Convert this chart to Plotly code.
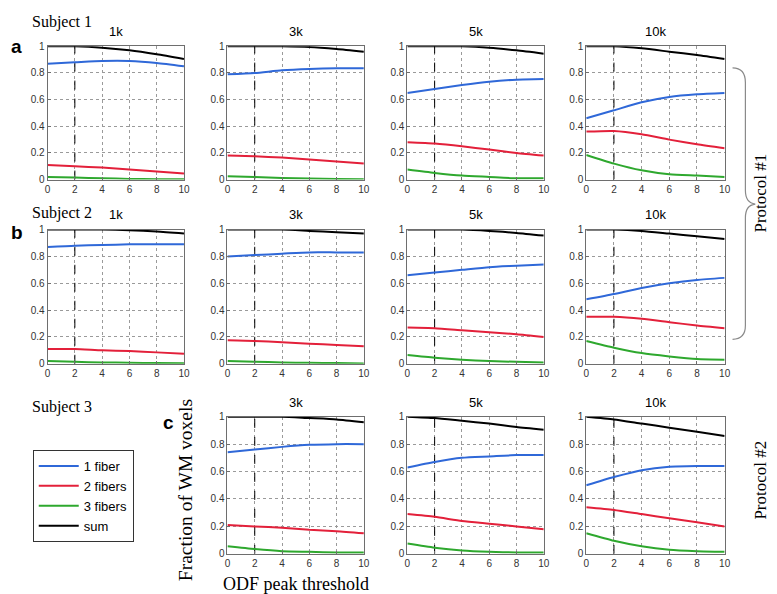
import plotly.graph_objects as go

W, H = 777, 594

# ---------------- data ----------------
thresholds = [0, 2, 4, 6, 8, 10]
peak_cut = 2
x_ticks = [0, 2, 4, 6, 8, 10]
y_ticks = [0, 0.2, 0.4, 0.6, 0.8, 1]

series_names = ["1 fiber", "2 fibers", "3 fibers", "sum"]

# Subject 1 (protocol #1)
one_s1 = {"1k": [0.87, 0.88, 0.89, 0.89, 0.875, 0.85],
          "3k": [0.79, 0.80, 0.82, 0.83, 0.835, 0.835],
          "5k": [0.65, 0.68, 0.71, 0.735, 0.75, 0.755],
          "10k": [0.46, 0.52, 0.58, 0.62, 0.64, 0.65]}
two_s1 = {"1k": [0.11, 0.10, 0.09, 0.075, 0.06, 0.045],
          "3k": [0.18, 0.175, 0.165, 0.15, 0.135, 0.12],
          "5k": [0.28, 0.27, 0.25, 0.225, 0.20, 0.18],
          "10k": [0.36, 0.365, 0.34, 0.30, 0.265, 0.235]}
three_s1 = {"1k": [0.02, 0.015, 0.01, 0.005, 0.003, 0.002],
            "3k": [0.025, 0.02, 0.012, 0.008, 0.005, 0.003],
            "5k": [0.075, 0.05, 0.03, 0.02, 0.01, 0.01],
            "10k": [0.185, 0.12, 0.07, 0.04, 0.03, 0.02]}
sum_s1 = {"1k": [1.0, 1.0, 0.99, 0.97, 0.94, 0.905],
          "3k": [1.0, 1.0, 1.0, 0.995, 0.98, 0.96],
          "5k": [1.0, 1.0, 1.0, 0.99, 0.97, 0.945],
          "10k": [1.0, 1.0, 0.985, 0.96, 0.935, 0.905]}

# Subject 2 (protocol #1)
one_s2 = {"1k": [0.87, 0.88, 0.885, 0.89, 0.89, 0.89],
          "3k": [0.80, 0.81, 0.82, 0.83, 0.83, 0.83],
          "5k": [0.66, 0.68, 0.70, 0.72, 0.73, 0.74],
          "10k": [0.48, 0.52, 0.565, 0.60, 0.625, 0.64]}
two_s2 = {"1k": [0.11, 0.11, 0.10, 0.095, 0.085, 0.075],
          "3k": [0.175, 0.17, 0.16, 0.15, 0.14, 0.13],
          "5k": [0.27, 0.265, 0.25, 0.235, 0.22, 0.20],
          "10k": [0.35, 0.35, 0.335, 0.31, 0.285, 0.265]}
three_s2 = {"1k": [0.02, 0.015, 0.01, 0.008, 0.005, 0.004],
            "3k": [0.02, 0.015, 0.01, 0.007, 0.005, 0.003],
            "5k": [0.065, 0.045, 0.03, 0.02, 0.015, 0.01],
            "10k": [0.17, 0.12, 0.08, 0.055, 0.035, 0.03]}
sum_s2 = {"1k": [1.0, 1.0, 1.0, 0.995, 0.985, 0.97],
          "3k": [1.0, 1.0, 1.0, 0.99, 0.98, 0.97],
          "5k": [1.0, 1.0, 1.0, 0.99, 0.975, 0.955],
          "10k": [1.0, 1.0, 0.99, 0.97, 0.95, 0.93]}

# Subject 3 (protocol #2)
one_s3 = {"3k": [0.74, 0.76, 0.78, 0.795, 0.80, 0.80],
          "5k": [0.63, 0.67, 0.70, 0.71, 0.72, 0.72],
          "10k": [0.50, 0.56, 0.61, 0.635, 0.64, 0.64]}
two_s3 = {"3k": [0.21, 0.20, 0.19, 0.175, 0.165, 0.15],
          "5k": [0.29, 0.27, 0.24, 0.22, 0.20, 0.18],
          "10k": [0.34, 0.32, 0.29, 0.26, 0.23, 0.20]}
three_s3 = {"3k": [0.055, 0.035, 0.02, 0.015, 0.01, 0.01],
            "5k": [0.075, 0.045, 0.025, 0.015, 0.01, 0.01],
            "10k": [0.15, 0.095, 0.055, 0.03, 0.02, 0.015]}
sum_s3 = {"3k": [1.0, 1.0, 1.0, 0.99, 0.98, 0.96],
          "5k": [1.0, 0.99, 0.97, 0.95, 0.925, 0.905],
          "10k": [1.0, 0.98, 0.95, 0.92, 0.89, 0.86]}

# ---------------- layout geometry (pixels) ----------------
col_px = [(37, 175), (219, 357), (401, 539), (582, 722)]
row_px = [(33, 169), (220, 357), (411, 551)]
colors = ["#2f68d8", "#e3203a", "#2ea82e", "#000000"]

panels = []
for r, subj in enumerate([(one_s1, two_s1, three_s1, sum_s1),
                          (one_s2, two_s2, three_s2, sum_s2)]):
    for c, res in enumerate(["1k", "3k", "5k", "10k"]):
        panels.append((r, c, res, subj))
for c, res in zip([1, 2, 3], ["3k", "5k", "10k"]):
    panels.append((2, c, res, (one_s3, two_s3, three_s3, sum_s3)))

def px(x):
    return x / W

def py(y):
    return 1 - y / H

SANS = "Liberation Sans, Arial, sans-serif"
SERIF = "Liberation Serif, Times New Roman, serif"

fig = go.Figure()
layout = dict(width=W, height=H, margin=dict(l=0, r=0, t=0, b=0),
              paper_bgcolor="white", plot_bgcolor="white",
              showlegend=True)
annotations = []

for i, (r, c, res, subj) in enumerate(panels, start=1):
    xa = "x" if i == 1 else f"x{i}"
    ya = "y" if i == 1 else f"y{i}"
    axis_common = dict(showgrid=True, gridcolor="#9a9a9a", griddash="dot",
                       gridwidth=1, showline=True, linecolor="#6e6e6e",
                       linewidth=1, mirror=True, ticks="inside", ticklen=3,
                       tickcolor="#6e6e6e", zeroline=False,
                       tickfont=dict(family=SANS, size=10, color="#333333"),
                       fixedrange=True)
    layout["xaxis" if i == 1 else f"xaxis{i}"] = dict(
        axis_common, domain=[px(col_px[c][0]), px(col_px[c][1])],
        range=[0, 10], tickvals=x_ticks, anchor=ya)
    layout["yaxis" if i == 1 else f"yaxis{i}"] = dict(
        axis_common, domain=[py(row_px[r][1]), py(row_px[r][0])],
        range=[0, 1], tickvals=y_ticks, anchor=xa)
    # threshold marker
    fig.add_trace(go.Scatter(x=[peak_cut, peak_cut], y=[0, 1], mode="lines",
                             line=dict(color="black", width=1, dash="dash"),
                             xaxis=xa, yaxis=ya, showlegend=False,
                             hoverinfo="skip"))
    for k, name in enumerate(series_names):
        fig.add_trace(go.Scatter(
            x=thresholds, y=subj[k][res], mode="lines", name=name,
            legendgroup=name, showlegend=(i == 1),
            line=dict(color=colors[k], width=2, shape="spline", smoothing=0.6),
            xaxis=xa, yaxis=ya))
    annotations.append(dict(
        text=res, x=px((col_px[c][0] + col_px[c][1]) / 2),
        y=py(row_px[r][0] - 15), xref="paper", yref="paper",
        showarrow=False, font=dict(family=SANS, size=13, color="black"),
        xanchor="center", yanchor="middle"))

# subject labels and panel letters
for txt, y in [("Subject 1", 8), ("Subject 2", 203), ("Subject 3", 401)]:
    annotations.append(dict(text=txt, x=px(19), y=py(y), xref="paper",
                            yref="paper", showarrow=False, xanchor="left",
                            yanchor="middle",
                            font=dict(family=SERIF, size=16, color="black")))
for txt, x, y in [("a", 6, 33), ("b", 6, 223), ("c", 159, 417)]:
    annotations.append(dict(text=f"<b>{txt}</b>", x=px(x), y=py(y),
                            xref="paper", yref="paper", showarrow=False,
                            xanchor="center", yanchor="middle",
                            font=dict(family=SANS, size=19, color="black")))

# axis titles
annotations.append(dict(text="Fraction of WM voxels", x=px(176), y=py(486),
                        xref="paper", yref="paper", showarrow=False,
                        textangle=-90, xanchor="center", yanchor="middle",
                        font=dict(family=SERIF, size=19.5, color="black")))
annotations.append(dict(text="ODF peak threshold", x=px(288), y=py(582),
                        xref="paper", yref="paper", showarrow=False,
                        xanchor="center", yanchor="middle",
                        font=dict(family=SERIF, size=18, color="black")))
# protocol labels
annotations.append(dict(text="Protocol #1", x=px(758), y=py(183),
                        xref="paper", yref="paper", showarrow=False,
                        textangle=-90, xanchor="center", yanchor="middle",
                        font=dict(family=SERIF, size=17, color="black")))
annotations.append(dict(text="Protocol #2", x=px(758), y=py(476),
                        xref="paper", yref="paper", showarrow=False,
                        textangle=-90, xanchor="center", yanchor="middle",
                        font=dict(family=SERIF, size=17, color="black")))

# brace for protocol #1
pts = [(730, 55), (743, 55), (743, 70), (743, 180), (743, 193), (753, 194),
       (743, 195), (743, 208), (743, 318), (743, 332), (730, 332)]
P = [(px(a), py(b)) for a, b in pts]
path = (f"M {P[0][0]},{P[0][1]} Q {P[1][0]},{P[1][1]} {P[2][0]},{P[2][1]} "
        f"L {P[3][0]},{P[3][1]} Q {P[4][0]},{P[4][1]} {P[5][0]},{P[5][1]} "
        f"Q {P[6][0]},{P[6][1]} {P[7][0]},{P[7][1]} "
        f"L {P[8][0]},{P[8][1]} Q {P[9][0]},{P[9][1]} {P[10][0]},{P[10][1]}")

layout["shapes"] = [dict(type="path", path=path, xref="paper", yref="paper",
                         line=dict(color="#8a8a8a", width=1.2))]
layout["annotations"] = annotations
layout["legend"] = dict(x=px(22), y=py(445), xanchor="left", yanchor="top",
                        bordercolor="#333333", borderwidth=1, bgcolor="white",
                        font=dict(family=SANS, size=13, color="black"),
                        itemwidth=40, tracegroupgap=0,
                        entrywidth=104, entrywidthmode="pixels")

fig.update_layout(**layout)
fig.write_html("out.html")
